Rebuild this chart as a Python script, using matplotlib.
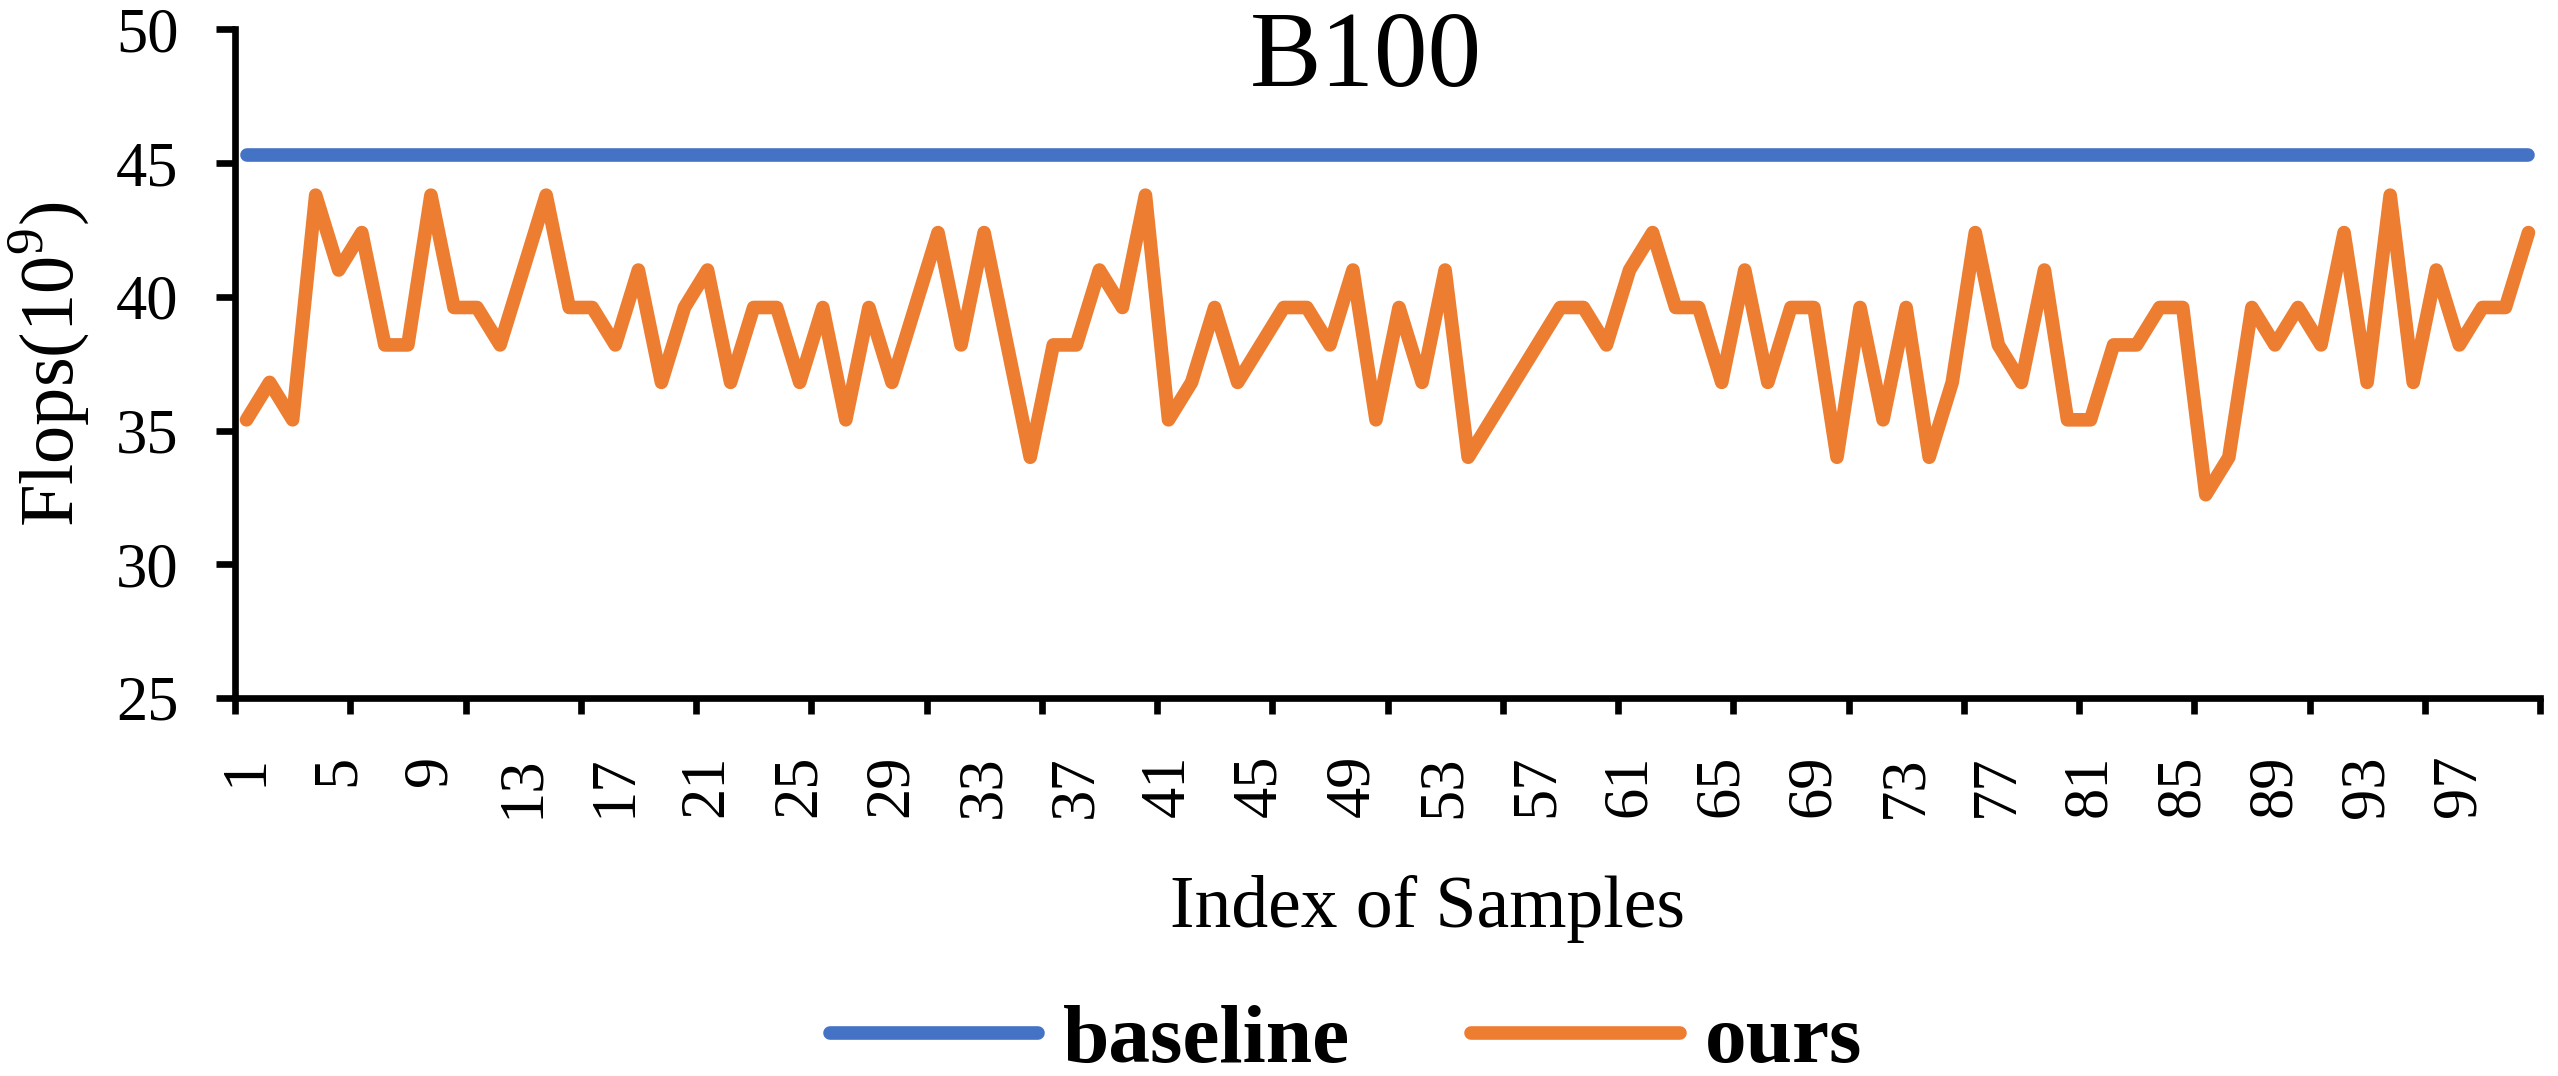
import matplotlib
matplotlib.use("Agg")
import matplotlib.pyplot as plt

plt.rcParams["font.family"] = ["Liberation Serif", "DejaVu Serif"]
plt.rcParams["mathtext.fontset"] = "custom"
plt.rcParams["mathtext.rm"] = "Liberation Serif"

# ── Data ──
sample_idx = list(range(1, 101))
baseline_flops = [45.3] * 100
ours_flops = [
    35.4, 36.8, 35.4, 43.8, 41.0, 42.4, 38.2, 38.2, 43.8, 39.6,
    39.6, 38.2, 41.0, 43.8, 39.6, 39.6, 38.2, 41.0, 36.8, 39.6,
    41.0, 36.8, 39.6, 39.6, 36.8, 39.6, 35.4, 39.6, 36.8, 39.6,
    42.4, 38.2, 42.4, 38.2, 34.0, 38.2, 38.2, 41.0, 39.6, 43.8,
    35.4, 36.8, 39.6, 36.8, 38.2, 39.6, 39.6, 38.2, 41.0, 35.4,
    39.6, 36.8, 41.0, 34.0, 35.4, 36.8, 38.2, 39.6, 39.6, 38.2,
    41.0, 42.4, 39.6, 39.6, 36.8, 41.0, 36.8, 39.6, 39.6, 34.0,
    39.6, 35.4, 39.6, 34.0, 36.8, 42.4, 38.2, 36.8, 41.0, 35.4,
    35.4, 38.2, 38.2, 39.6, 39.6, 32.6, 34.0, 39.6, 38.2, 39.6,
    38.2, 42.4, 36.8, 43.8, 36.8, 41.0, 38.2, 39.6, 39.6, 42.4,
]
series_names = ["baseline", "ours"]
series_colors = ["#4472C4", "#ED7D31"]
y_ticks = [25, 30, 35, 40, 45, 50]
x_label_idx = list(range(1, 101, 4))

W, H = 2558, 1076
fig = plt.figure(figsize=(W / 100, H / 100), dpi=100)
ax = fig.add_axes([235 / W, 1 - 698 / H, (2540 - 235) / W, (698 - 29.3) / H])

lw = 9.8
ax.plot(sample_idx, baseline_flops, color=series_colors[0], lw=lw,
        solid_capstyle="round", solid_joinstyle="round", label=series_names[0])
ax.plot(sample_idx, ours_flops, color=series_colors[1], lw=lw,
        solid_capstyle="round", solid_joinstyle="round", label=series_names[1])

ax.set_xlim(0.5, 100.5)
ax.set_ylim(25, 50)

# spines
for side in ("top", "right"):
    ax.spines[side].set_visible(False)
for side in ("left", "bottom"):
    ax.spines[side].set_linewidth(4.8)
    ax.spines[side].set_capstyle("projecting")

# y axis
ax.set_yticks(y_ticks)
ax.tick_params(axis="y", length=13.7, width=4.8, direction="out",
               labelsize=45, pad=27)

# x axis: tick marks every 5 categories, labels every 4 categories
ax.set_xticks([0.5 + 5 * k for k in range(21)])
ax.set_xticklabels([])
ax.tick_params(axis="x", which="major", length=11.5, width=4.8, direction="out")
ax.set_xticks(x_label_idx, minor=True)
ax.set_xticklabels([str(i) for i in x_label_idx], minor=True, rotation=90)
ax.tick_params(axis="x", which="minor", length=0, labelsize=45, pad=41)

# texts
fig.text(1366 / W, 1 - 86 / H, "B100", fontsize=77, ha="center", va="baseline")
fig.text(1428 / W, 1 - 927 / H, "Index of Samples", fontsize=53,
         ha="center", va="baseline")
fig.text(49 / W, 1 - 364 / H, r"Flops(10$^{9}$)", fontsize=55, rotation=90,
         ha="center", va="center")

leg = ax.legend(loc="center", bbox_to_anchor=(1346 / W, 1 - 1042 / H),
                bbox_transform=fig.transFigure, ncol=2, frameon=False,
                handlelength=2.5, handletextpad=0.3, columnspacing=1.45,
                prop={"weight": "bold", "size": 60})

fig.savefig("out.png", dpi=100)
